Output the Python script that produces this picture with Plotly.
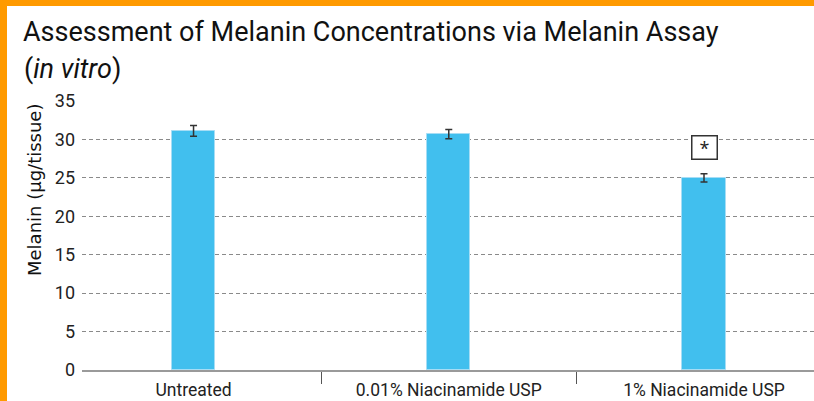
import plotly.graph_objects as go

categories = ["Untreated", "0.01% Niacinamide USP", "1% Niacinamide USP"]
melanin = [31.1, 30.7, 25.0]
errors = [0.7, 0.6, 0.55]
y_ticks = [0, 5, 10, 15, 20, 25, 30, 35]
sig_label = "*"
sig_category = "1% Niacinamide USP"
sig_y = 29.0

W, H = 814, 401
ML, MR, MT, MB = 82, 0, 101, 31
pw = W - ML - MR
ph = H - MT - MB

def px_x(px):
    return (px - ML) / pw

def px_y(py):
    return (H - MB - py) / ph

fig = go.Figure()
fig.add_trace(go.Bar(
    x=categories, y=melanin,
    width=0.17,
    marker=dict(color="#41BFEE", line=dict(color="#A6DDF5", width=1)),
    error_y=dict(type="data", array=errors, visible=True, color="#333333",
                 thickness=1.5, width=3.5),
))

orange = "#FF9A00"
shapes = [
    dict(type="rect", xref="paper", yref="paper", x0=px_x(0), x1=px_x(W), y0=px_y(6), y1=px_y(0),
         fillcolor=orange, line=dict(width=0), layer="above"),
    dict(type="rect", xref="paper", yref="paper", x0=px_x(0), x1=px_x(7), y0=px_y(H), y1=px_y(0),
         fillcolor=orange, line=dict(width=0), layer="above"),
]

fig.update_layout(
    width=W, height=H,
    margin=dict(l=ML, r=MR, t=MT, b=MB),
    paper_bgcolor="white", plot_bgcolor="white",
    showlegend=False,
    title=dict(text="Assessment of Melanin Concentrations via Melanin Assay",
               x=23 / W, xref="container", xanchor="left",
               y=1 - 22 / H, yref="container", yanchor="top",
               font=dict(family="Roboto", size=27, color="#111111")),
    shapes=shapes,
    annotations=[
        dict(text="(<i>in vitro</i>)", xref="paper", yref="paper",
             x=px_x(22), y=px_y(51), xanchor="left", yanchor="top", showarrow=False,
             font=dict(family="Roboto", size=27, color="#111111")),
        dict(text="Melanin (µg/tissue)", xref="paper", yref="paper",
             x=px_x(34), y=px_y(190), xanchor="center", yanchor="middle",
             textangle=-90, showarrow=False,
             font=dict(family="DejaVu Sans", size=18, color="#111111")),
        dict(text=sig_label, x=sig_category, y=sig_y, xref="x", yref="y", showarrow=False,
             font=dict(family="Open Sans", size=18, color="#222222"),
             bordercolor="#333333", borderwidth=1.5, width=20, height=18, borderpad=2,
             bgcolor="white"),
    ],
    xaxis=dict(
        type="category", range=[-0.437, 2.431],
        showline=True, linecolor="#9A9A9A", linewidth=1.5,
        ticks="outside", tickson="boundaries", ticklen=12, tickcolor="#555555", tickwidth=1,
        showgrid=False, ticklabelstandoff=3,
        tickfont=dict(family="Roboto", size=17.5, color="#222222"),
    ),
    yaxis=dict(
        range=[0, 35], tickvals=y_ticks,
        showgrid=True, gridcolor="#8A8A8A", griddash="4px,3px", gridwidth=1,
        zeroline=False, showline=False, ticks="",
        tickfont=dict(family="Roboto", size=18, color="#222222"),
        ticklabelstandoff=6,
    ),
    bargap=0,
)

fig.write_html("out.html", config={"displayModeBar": False})

with open("out.html", encoding="utf-8") as f:
    html = f.read()
html = html.replace("<head>", "<head><style>html,body{margin:0;padding:0;overflow:hidden;}</style>", 1)
with open("out.html", "w", encoding="utf-8") as f:
    f.write(html)
